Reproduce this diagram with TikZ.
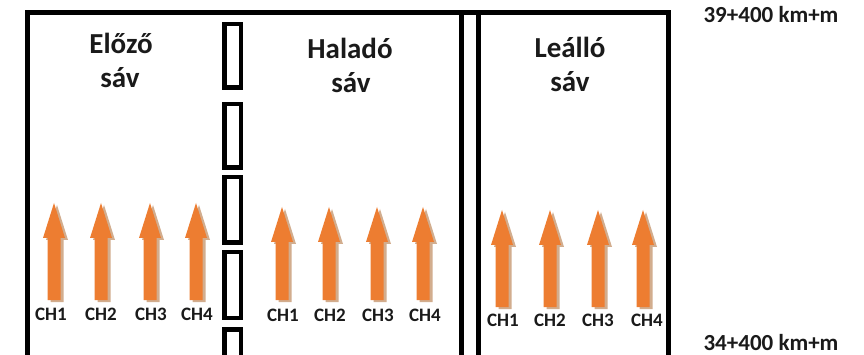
\documentclass[tikz,border=0pt]{standalone}
\usepackage{fontspec}
\setmainfont{Carlito}
\definecolor{arroworange}{HTML}{ED7D31}
\definecolor{arrowshadow}{HTML}{D2AD8E}
\definecolor{inkdark}{HTML}{1A1A1A}
\tikzset{
  wall/.style={line width=5pt, draw=black},
  lanetitle/.style={anchor=base, inner sep=0pt, text=inkdark, font=\bfseries\fontsize{29}{33}\selectfont},
  chlabel/.style={anchor=base, inner sep=0pt, text=inkdark, font=\bfseries\fontsize{19}{21}\selectfont},
  kmlabel/.style={anchor=base, inner sep=0pt, text=inkdark, font=\bfseries\fontsize{23}{25}\selectfont},
}
% upward block arrow with a soft offset shadow: x, tip y, head base y, bottom y
\newcommand{\laneArrow}[4]{%
  \fill[arrowshadow] (#1+3,#2+2) -- (#1+14,#3+2) -- (#1+9.5,#3+2) -- (#1+9.5,#4+2)
    -- (#1-3.5,#4+2) -- (#1-3.5,#3+2) -- (#1-8,#3+2) -- cycle;
  \fill[arroworange] (#1,#2) -- (#1+11,#3) -- (#1+6.5,#3) -- (#1+6.5,#4)
    -- (#1-6.5,#4) -- (#1-6.5,#3) -- (#1-11,#3) -- cycle;
}
% one dash of the lane divider, given by its outer top and bottom
\newcommand{\laneDash}[2]{%
  \draw[line width=4.5pt] (224.25,#1+2.25) rectangle (240.75,#2-2.25);
}
\begin{document}
\begin{tikzpicture}[x=1pt,y=-1pt]
  \useasboundingbox (0,0) rectangle (864,355);
  \fill[white] (0,0) rectangle (864,355);

  % road outline, open towards the bottom
  \coordinate (bl) at (27,355);
  \coordinate (tl) at (27,13);
  \coordinate (tr) at (668,13);
  \coordinate (br) at (668,355);
  \draw[wall] (bl) -- (tl) -- (tr) -- (br);

  % double line before the hard shoulder
  \coordinate (d1t) at (461,13);
  \coordinate (d1b) at (461,355);
  \coordinate (d2t) at (478,13);
  \coordinate (d2b) at (478,355);
  \draw[wall] (d1t) -- (d1b);
  \draw[wall] (d2t) -- (d2b);

  % broken lane divider
  \laneDash{22}{90}
  \laneDash{102}{170}
  \laneDash{175}{245}
  \laneDash{250}{320}
  \laneDash{327}{368}

  % lane titles
  \node[lanetitle] (elozo) at (121,54) {Előző};
  \node[lanetitle] (elozosav) at (120,88) {sáv};
  \node[lanetitle] (halado) at (350,59) {Haladó};
  \node[lanetitle] (haladosav) at (351,93) {sáv};
  \node[lanetitle] (leallo) at (570,58) {Leálló};
  \node[lanetitle] (leallosav) at (570,92) {sáv};

  % chainage
  \node[kmlabel] (kmtop) at (771,23) {39+400 km+m};
  \node[kmlabel] (kmbottom) at (771,350) {34+400 km+m};

  % measuring channels, overtaking lane
  \laneArrow{54}{203}{238}{300}
  \laneArrow{101}{203}{238}{300}
  \laneArrow{150}{203}{238}{300}
  \laneArrow{196}{203}{238}{300}
  \node[chlabel] (a1) at (51,320) {CH1};
  \node[chlabel] (a2) at (101,320) {CH2};
  \node[chlabel] (a3) at (151,320) {CH3};
  \node[chlabel] (a4) at (197,320) {CH4};

  % measuring channels, driving lane
  \laneArrow{282}{207}{242}{300}
  \laneArrow{329}{207}{242}{300}
  \laneArrow{377}{207}{242}{300}
  \laneArrow{423}{207}{242}{300}
  \node[chlabel] (b1) at (283,321) {CH1};
  \node[chlabel] (b2) at (330,321) {CH2};
  \node[chlabel] (b3) at (378,321) {CH3};
  \node[chlabel] (b4) at (425,321) {CH4};

  % measuring channels, hard shoulder
  \laneArrow{502}{210}{245}{307}
  \laneArrow{550}{210}{245}{307}
  \laneArrow{598}{210}{245}{307}
  \laneArrow{643}{210}{245}{307}
  \node[chlabel] (c1) at (503,326) {CH1};
  \node[chlabel] (c2) at (550,326) {CH2};
  \node[chlabel] (c3) at (598,326) {CH3};
  \node[chlabel] (c4) at (647,326) {CH4};
\end{tikzpicture}
\end{document}
